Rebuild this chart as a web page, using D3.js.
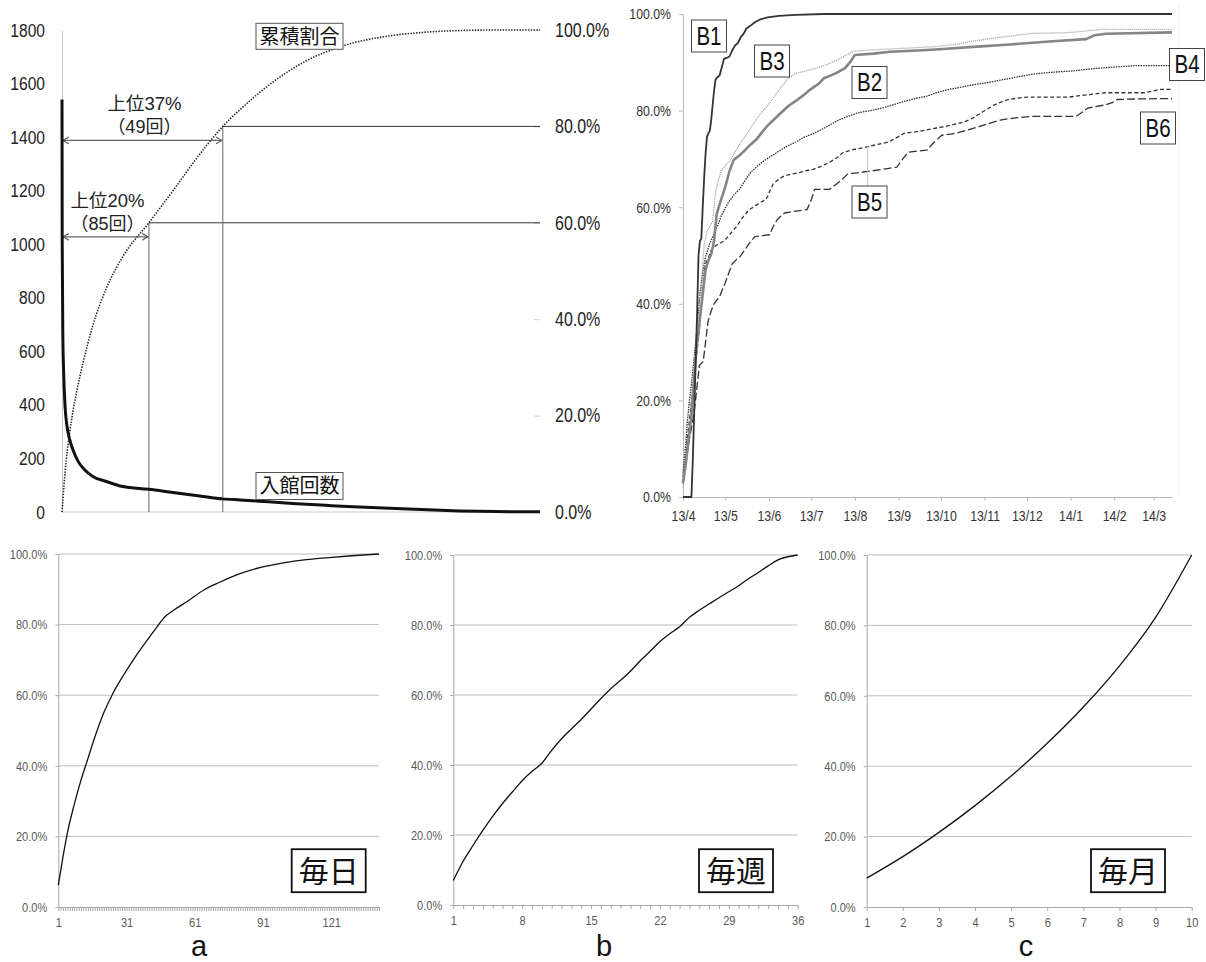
<!DOCTYPE html>
<html>
<head>
<meta charset="utf-8">
<script src="https://cdn.jsdelivr.net/npm/d3@7"></script>
<style>
  body { margin: 0; background: #fff; }
  svg { display: block; }
</style>
</head>
<body>
<svg id="chart" width="1206" height="962"></svg>
<script>
// ---------- Panel 1: visits per member (sorted) and cumulative share ----------
const memberRank = [0, 0.05, 0.2, 0.38, 0.7, 1.15, 1.76, 2.5, 3.7, 5.2, 7.1, 10.2, 14, 20, 25.5, 31.7, 37, 41, 47.5, 54, 60.7, 67, 74, 82.7, 91.5, 100, 110];
const visitCount = [1540, 1000, 650, 522, 396, 321, 271, 233, 189, 158, 133, 114, 95, 85, 73, 60, 49, 45, 38, 31, 25, 19.5, 15, 9, 4, 1.5, 0.5];
const cumRank = [0, 0.5, 1, 1.76, 2.5, 3.5, 4.8, 7.1, 10.2, 14, 20, 25.5, 31.5, 37, 41, 47.5, 56, 65, 74, 83, 92, 100, 110];
const cumShare = [0, 6, 11, 16.5, 20.8, 25.5, 30.8, 38.7, 46.4, 53, 60, 66.6, 74, 80, 83.5, 88.5, 93.5, 96.8, 98.6, 99.5, 99.9, 100, 100];
const cutoffTopShare = [20, 37];
const cutoffVisits = [85, 49];
const cutoffCumShare = [60, 80];
const countTicks = [0, 200, 400, 600, 800, 1000, 1200, 1400, 1600, 1800];
const shareTicks = [0, 20, 40, 60, 80, 100];

// ---------- Panel 2: cumulative share by date for groups B1-B6 ----------
const seriesNames = ["B1", "B2", "B3", "B4", "B5", "B6"];
const b1Day = [0, 6, 7, 8, 9, 10, 11, 12, 13, 14, 15, 16, 17, 18, 19, 20, 21, 22, 23, 24, 26, 28, 29, 31, 33, 35, 37, 39, 41, 43, 45, 48, 51, 55, 60, 68, 80, 100, 347];
const b1Pct = [0, 0, 8, 18, 28, 38, 50, 53, 53.5, 60, 66, 71, 74.5, 75.3, 75.8, 78, 81, 84, 86.3, 86.8, 87.3, 89.5, 90.7, 90.9, 91.2, 92.5, 93.5, 94, 95.2, 95.9, 97, 97.6, 98.3, 98.9, 99.3, 99.6, 99.8, 100, 100];
const b2Day = [0, 2, 4, 6, 8, 10, 11, 12, 14, 16, 18, 20, 22, 24, 27, 30, 33, 36, 40, 44, 48, 52, 56, 60, 64, 69, 75, 81, 86, 90, 96, 100, 105, 109, 115, 119, 122, 135, 147, 170, 182, 206, 232, 260, 286, 292, 300, 347];
const b2Pct = [3, 7, 12, 17, 25, 32, 34, 37, 42, 47, 49, 50.2, 53, 58.7, 61.5, 64.2, 67.5, 69.8, 70.7, 71.8, 73, 74, 75.5, 76.9, 78, 79.4, 81, 82.2, 83.3, 84.3, 85.5, 86.7, 87.3, 87.8, 88.8, 90.2, 91.5, 91.8, 92.2, 92.5, 92.7, 93.2, 93.7, 94.3, 94.8, 95.6, 95.9, 96.2];
const b3Day = [0, 2, 4, 6, 8, 10, 11, 12, 13, 14, 15, 17, 19, 21, 23, 25, 27, 30, 33, 36, 40, 45, 50, 55, 60, 65, 70, 75, 80, 88, 95, 102, 110, 116, 121, 135, 150, 182, 195, 206, 220, 232, 248, 270, 280, 296, 347];
const b3Pct = [2, 6, 11, 18, 27, 36, 39, 41.5, 43, 48, 52, 55, 56, 57, 63, 65.5, 67.5, 68.5, 69.5, 71, 73, 75, 77.3, 79.3, 81, 83, 85, 86.8, 87.7, 88.3, 88.8, 89.5, 90.6, 91.5, 92.3, 92.6, 92.8, 93.3, 93.8, 94.4, 95, 95.4, 96, 96.1, 96.3, 96.8, 96.8];
const b4Day = [0, 2, 3, 5, 6, 8, 10, 12, 14, 16, 19, 22, 25, 27, 30, 32, 36, 40, 44, 48, 52, 56, 61, 67, 73, 80, 86, 93, 99, 104, 110, 117, 125, 133, 141, 149, 157, 165, 173, 181, 189, 198, 207, 218, 229, 238, 247, 260, 276, 288, 300, 321, 347];
const b4Pct = [5, 11, 15.4, 21, 23.5, 29, 35, 42, 46.5, 49.7, 52.5, 54.5, 56.5, 58.1, 59.8, 60.9, 62.5, 63.7, 65.5, 67.2, 68.3, 69.3, 70.3, 71.4, 72.5, 73.5, 74.5, 75.3, 76.2, 77, 78, 78.8, 79.6, 80, 80.5, 81.2, 81.9, 82.5, 83, 83.8, 84.4, 84.9, 85.4, 85.9, 86.5, 87, 87.5, 87.9, 88.2, 88.6, 88.9, 89.3, 89.3];
const b5Day = [0, 2, 3, 5, 7, 9, 11, 13, 15, 16, 18, 20, 23, 26, 29, 32, 35, 38, 41, 43, 47, 51, 55, 59, 61, 64, 68, 72, 78, 83, 88, 93, 99, 104, 109, 114, 122, 131, 138, 146, 151, 157, 165, 173, 180, 186, 193, 200, 206, 213, 217, 221, 226, 231, 238, 245, 274, 282, 288, 300, 327, 333, 338, 347];
const b5Pct = [2.8, 8, 11.9, 17, 22.4, 28, 32.9, 40, 46, 48.3, 49.5, 51.1, 52, 52.5, 53, 53.9, 55, 56, 57.3, 58.1, 59.5, 60.2, 61, 61.6, 63, 64.8, 65.8, 66.5, 66.9, 67.2, 67.6, 67.9, 68.6, 69.3, 70.2, 71.4, 72, 72.5, 73, 73.5, 74.3, 75.3, 75.6, 76, 76.4, 76.7, 77.2, 77.7, 78.5, 79.8, 80.5, 81.2, 81.8, 82.3, 82.6, 82.8, 82.8, 83.1, 83.3, 83.7, 83.7, 84, 84.4, 84.4];
const b6Day = [0, 2, 4.5, 7, 8.5, 10, 11.7, 14.3, 16, 17.8, 20, 21.8, 24, 25.7, 28, 29.7, 32, 35, 38, 40.3, 44, 47, 51, 56, 61.5, 64, 66.8, 70, 72.1, 80, 88, 91, 93.4, 104, 109, 113, 117, 126, 135.8, 145, 151.7, 156, 159.7, 166, 173, 178, 183.6, 194, 202, 210, 218, 226, 236, 247, 279, 283, 287, 300, 305, 308, 320, 347];
const b6Pct = [4.2, 7.5, 11.9, 16, 18.9, 23, 27.3, 28, 32, 36.4, 38.5, 39.9, 40.8, 41.3, 43, 44.1, 46, 48.3, 49.2, 49.7, 51.2, 52.5, 53.9, 54.1, 54.3, 56, 57.4, 58.3, 58.8, 59.2, 59.5, 61.5, 63.7, 63.7, 64.8, 65.8, 66.9, 67.2, 67.6, 68, 68.3, 70, 71.4, 71.6, 71.8, 73.4, 74.9, 75.3, 76, 76.7, 77.4, 78.1, 78.5, 78.8, 78.8, 79.6, 80.5, 81.2, 81.7, 82.3, 82.4, 82.5];
const periodStart = Date.UTC(2013, 3, 1);
const periodDays = 347;

// ---------- Panels a, b, c: cumulative share by visit frequency ----------
const dailyIndex = [1, 3, 5, 8, 11, 14, 17, 21, 25, 30, 35, 40, 44, 48, 52, 58, 65, 72, 80, 90, 100, 110, 120, 130, 142];
const dailyPct = [6.2, 14, 21, 29, 36, 42, 48, 55, 60.5, 66, 71, 75.5, 79, 82.3, 84.2, 86.7, 89.8, 92, 94.2, 96.2, 97.5, 98.4, 99, 99.5, 100];
const dailyLabels = [1, 31, 61, 91, 121];
const weeklyPct = [7, 12.5, 17, 21.3, 25.3, 29, 32.3, 35.5, 38.2, 40.5, 44.2, 47.5, 50.3, 53, 56, 59, 61.8, 64.2, 66.8, 69.8, 72.5, 75.3, 77.5, 79.5, 82.2, 84.2, 86, 87.8, 89.5, 91.2, 93.2, 95, 96.9, 98.6, 99.5, 100];
const weeklyLabels = [1, 8, 15, 22, 29, 36];
const monthlyPct = [8.2, 14.3, 21.2, 28.8, 37.2, 46.5, 56.8, 68.5, 82.3, 100];
const monthlyLabels = [1, 2, 3, 4, 5, 6, 7, 8, 9, 10];
const gridTicks = [0, 20, 40, 60, 80, 100];

const SANS = "'Liberation Sans',Arial,sans-serif";
const JP = "'Liberation Sans','Noto Sans CJK JP',sans-serif";
const NARROW_K = 0.82;   // horizontal squeeze for the narrow numeric lettering
const pctFmt = d => d.toFixed(1) + "%";

const svg = d3.select("#chart");

// squeeze text horizontally around its own anchor point
function condense(sel, k = NARROW_K) {
  sel.each(function () {
    const t = d3.select(this);
    const x = +t.attr("x") || 0;
    t.attr("x", x / k).attr("transform", `scale(${k},1)`);
  });
}

function framedLabel(g, text, cx, cy, w, h, size, opts = {}) {
  g.append("rect")
    .attr("x", cx - w / 2).attr("y", cy - h / 2)
    .attr("width", w).attr("height", h)
    .attr("fill", "#fff")
    .attr("stroke", opts.stroke || "#555")
    .attr("stroke-width", opts.strokeWidth || 1);
  const t = g.append("text")
    .attr("x", cx).attr("y", cy).attr("dy", "0.36em")
    .attr("text-anchor", "middle")
    .style("font-family", opts.family || JP)
    .style("font-size", size + "px")
    .attr("fill", "#111")
    .text(text);
  if (opts.narrow) condense(t);
}

// ================= Panel 1 =================
{
  const g = svg.append("g");
  const x = d3.scaleLinear().domain([0, 110]).range([62, 540]);
  const yL = d3.scaleLinear().domain([0, 1800]).range([512, 30]);
  const yR = d3.scaleLinear().domain([0, 100]).range([512, 30]);

  const left = g.append("g").attr("transform", "translate(62,0)")
    .call(d3.axisLeft(yL).tickValues(countTicks).tickSize(0).tickPadding(17).tickFormat(d3.format("d")));
  left.select(".domain").attr("stroke", "#c8c8c8");
  left.selectAll("text").style("font-family", SANS).style("font-size", "19px").attr("fill", "#222").call(condense);

  const right = g.append("g").attr("transform", "translate(540,0)")
    .call(d3.axisRight(yR).tickValues(shareTicks).tickSizeInner(-6).tickSizeOuter(0).tickPadding(15).tickFormat(pctFmt));
  right.select(".domain").remove();
  right.selectAll(".tick line").attr("stroke", "#d0d0d0");
  right.selectAll("text").style("font-family", SANS).style("font-size", "19.5px").attr("fill", "#222").call(condense);

  g.append("line").attr("x1", 62).attr("x2", 540).attr("y1", 512).attr("y2", 512).attr("stroke", "#c8c8c8");

  // cutoff guides with double arrows
  const defs = svg.append("defs");
  ["start", "end"].forEach(k => {
    defs.append("marker").attr("id", "arr-" + k)
      .attr("viewBox", "0 0 10 10").attr("refX", k === "end" ? 9 : 1).attr("refY", 5)
      .attr("markerWidth", 7).attr("markerHeight", 7).attr("orient", "auto")
      .append("path")
      .attr("d", k === "end" ? "M2,1 L9,5 L2,9" : "M8,1 L1,5 L8,9")
      .attr("fill", "none").attr("stroke", "#555").attr("stroke-width", 1.3);
  });

  cutoffTopShare.forEach((s, i) => {
    const xc = x(s), yc = yR(cutoffCumShare[i]);
    g.append("line").attr("x1", xc).attr("x2", 540).attr("y1", yc).attr("y2", yc)
      .attr("stroke", "#333").attr("stroke-width", 1);
    g.append("line").attr("x1", xc).attr("x2", xc).attr("y1", yc).attr("y2", 512)
      .attr("stroke", "#666").attr("stroke-width", 1);
    g.append("line").attr("x1", 63).attr("x2", xc - 1).attr("y1", yc + 14).attr("y2", yc + 14)
      .attr("stroke", "#666").attr("stroke-width", 1.2)
      .attr("marker-start", "url(#arr-start)").attr("marker-end", "url(#arr-end)");
    const cx = (62 + xc) / 2 + 2;
    g.append("text").attr("x", cx).attr("y", yc - 16).attr("text-anchor", "middle")
      .style("font-family", JP).style("font-size", "18.5px").attr("fill", "#222")
      .text("上位" + s + "%");
    g.append("text").attr("x", cx).attr("y", yc + 7).attr("text-anchor", "middle")
      .style("font-family", JP).style("font-size", "18px").attr("fill", "#222")
      .text("（" + cutoffVisits[i] + "回）");
  });

  const cumData = cumRank.map((r, i) => [r, cumShare[i]]);
  g.append("path").datum(cumData)
    .attr("d", d3.line().x(d => x(d[0])).y(d => yR(d[1])).curve(d3.curveMonotoneX))
    .attr("fill", "none").attr("stroke", "#222").attr("stroke-width", 1.6)
    .attr("stroke-dasharray", "1.4,1.4");

  const countData = memberRank.map((r, i) => [r, visitCount[i]]);
  g.append("path").datum(countData)
    .attr("d", d3.line().x(d => x(d[0])).y(d => yL(d[1])).curve(d3.curveMonotoneX))
    .attr("fill", "none").attr("stroke", "#111").attr("stroke-width", 3)
    .attr("stroke-linejoin", "round");

  framedLabel(g, "累積割合", 299.5, 36.3, 87, 26, 20);
  framedLabel(g, "入館回数", 299.5, 486, 87, 27, 20);
}

// ================= Panel 2 =================
{
  const g = svg.append("g");
  const t0 = new Date(periodStart);
  const t1 = new Date(periodStart + periodDays * 864e5);
  const x = d3.scaleUtc().domain([t0, t1]).range([683, 1172]);
  const y = d3.scaleLinear().domain([0, 100]).range([497, 14]);

  g.append("line").attr("x1", 1179).attr("x2", 1179).attr("y1", 4).attr("y2", 497).attr("stroke", "#eeeeee");

  const ya = g.append("g").attr("transform", "translate(683,0)")
    .call(d3.axisLeft(y).tickValues(shareTicks).tickSize(4).tickPadding(8).tickFormat(pctFmt));
  ya.selectAll(".domain, .tick line").attr("stroke", "#bbb");
  ya.selectAll("text").style("font-family", SANS).style("font-size", "15px").attr("fill", "#333").call(condense);

  const months = d3.utcMonth.range(t0, t1);
  const xa = g.append("g").attr("transform", "translate(0,497)")
    .call(d3.axisBottom(x).tickValues(months).tickSize(4).tickSizeOuter(0).tickPadding(9)
      .tickFormat(d3.utcFormat("%y/%-m")));
  xa.selectAll(".domain, .tick line").attr("stroke", "#bbb");
  xa.selectAll("text").style("font-family", SANS).style("font-size", "15px").attr("fill", "#333").call(condense);

  const dayToDate = d => new Date(periodStart + d * 864e5);
  const series = [
    { name: "B6", days: b6Day, pct: b6Pct, color: "#333", width: 1.3, dash: "8,3" },
    { name: "B5", days: b5Day, pct: b5Pct, color: "#333", width: 1.3, dash: "4,2.5" },
    { name: "B4", days: b4Day, pct: b4Pct, color: "#333", width: 1.3, dash: "1.5,1" },
    { name: "B3", days: b3Day, pct: b3Pct, color: "#9a9a9a", width: 1.3, dash: "1,1" },
    { name: "B2", days: b2Day, pct: b2Pct, color: "#858585", width: 2.6, dash: null },
    { name: "B1", days: b1Day, pct: b1Pct, color: "#333", width: 1.8, dash: null }
  ];
  const line = d3.line().x(d => x(dayToDate(d[0]))).y(d => y(d[1]));
  series.forEach(s => {
    const p = g.append("path").datum(s.days.map((d, i) => [d, s.pct[i]]))
      .attr("d", line)
      .attr("fill", "none").attr("stroke", s.color).attr("stroke-width", s.width)
      .attr("stroke-linejoin", "round");
    if (s.dash) p.attr("stroke-dasharray", s.dash);
  });

  // leader from the B5 curve down to its label
  const leaderDay = 131;
  g.append("line")
    .attr("x1", x(dayToDate(leaderDay))).attr("x2", x(dayToDate(leaderDay)))
    .attr("y1", y(b5Pct[b5Day.indexOf(leaderDay)])).attr("y2", 186)
    .attr("stroke", "#c8c8c8").attr("stroke-width", 1);

  const labelPos = {
    B1: [709, 36], B3: [772, 61], B2: [869.5, 82.5],
    B4: [1187, 64.5], B6: [1158, 128], B5: [869.5, 202]
  };
  seriesNames.forEach(n => {
    framedLabel(g, n, labelPos[n][0], labelPos[n][1], 35, 32, 25, { family: SANS, stroke: "#444", narrow: true });
  });
}

// ================= Panels a, b, c =================
function frequencyPanel(cfg) {
  const g = svg.append("g");
  const x = d3.scaleLinear().domain([1, cfg.n]).range([cfg.x0, cfg.x1]);
  const y = d3.scaleLinear().domain([0, 100]).range([cfg.y0, cfg.y1]);

  g.append("g").selectAll("line").data(gridTicks.slice(1)).join("line")
    .attr("x1", cfg.x0).attr("x2", cfg.x1)
    .attr("y1", d => y(d)).attr("y2", d => y(d))
    .attr("stroke", "#bdbdbd").attr("stroke-width", 1);

  const ya = g.append("g").attr("transform", `translate(${cfg.x0},0)`)
    .call(d3.axisLeft(y).tickValues(gridTicks).tickSize(3).tickSizeOuter(0).tickPadding(8).tickFormat(pctFmt));
  ya.selectAll(".domain, .tick line").attr("stroke", "#a8a8a8");
  ya.selectAll("text").style("font-family", SANS).style("font-size", "13.5px").attr("fill", "#595959").call(condense);

  const xa = g.append("g").attr("transform", `translate(0,${cfg.y0})`)
    .call(d3.axisBottom(x).tickValues(d3.range(1, cfg.n + 1)).tickSize(4).tickSizeOuter(0).tickPadding(6)
      .tickFormat(d => cfg.labels.includes(d) ? d : ""));
  xa.selectAll(".domain, .tick line").attr("stroke", "#a8a8a8");
  xa.selectAll("text").style("font-family", SANS).style("font-size", "13.5px").attr("fill", "#595959").call(condense);

  g.append("path").datum(cfg.data)
    .attr("d", d3.line().x(d => x(d[0])).y(d => y(d[1])).curve(d3.curveMonotoneX))
    .attr("fill", "none").attr("stroke", "#111").attr("stroke-width", 1.3);

  framedLabel(g, cfg.tag, cfg.tagX, 870.7, 74, 43, 30, { stroke: "#111", strokeWidth: 1.8 });

  g.append("text").attr("x", cfg.letterX).attr("y", 955.8).attr("text-anchor", "middle")
    .style("font-family", SANS).style("font-size", "29px")
    .attr("fill", "#111").text(cfg.letter);
}

frequencyPanel({
  n: 142, x0: 58.3, x1: 379, y0: 907, y1: 554,
  data: dailyIndex.map((d, i) => [d, dailyPct[i]]), labels: dailyLabels,
  tag: "毎日", tagX: 328.7, letter: "a", letterX: 199
});
frequencyPanel({
  n: 36, x0: 453.3, x1: 797.7, y0: 905, y1: 555,
  data: weeklyPct.map((v, i) => [i + 1, v]), labels: weeklyLabels,
  tag: "毎週", tagX: 736, letter: "b", letterX: 604
});
frequencyPanel({
  n: 10, x0: 866.7, x1: 1191.7, y0: 907, y1: 555,
  data: monthlyPct.map((v, i) => [i + 1, v]), labels: monthlyLabels,
  tag: "毎月", tagX: 1128, letter: "c", letterX: 1026
});
</script>
</body>
</html>
